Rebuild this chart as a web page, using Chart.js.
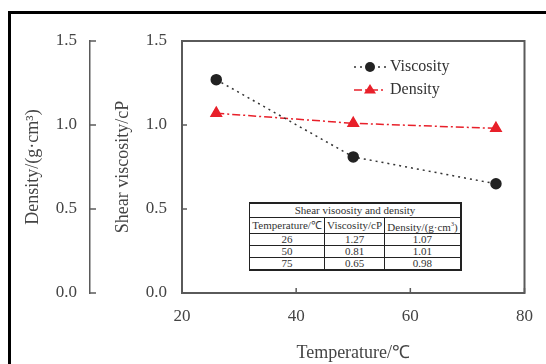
<!DOCTYPE html>
<html>
<head>
<meta charset="utf-8">
<script src="https://cdn.jsdelivr.net/npm/chart.js@4.4.0/dist/chart.umd.min.js"></script>
<style>
  html, body { margin: 0; padding: 0; background: #fff; overflow: hidden; }
  #wrap { position: relative; width: 546px; height: 364px; }
  #edge { position: absolute; left: 8px; top: 11px; width: 600px; height: 400px;
          border-left: 3px solid #000; border-top: 3px solid #000; }
  canvas { position: absolute; left: 0; top: 0; }
  #tbl { position: absolute; left: 249px; top: 202px; width: 213px;
         border-collapse: collapse; font-family: 'Liberation Serif', serif;
         font-size: 11px; color: #333; background: #fff; text-align: center; }
  #tbl td { border: 1px solid #222; padding: 0; line-height: 11px; height: 11px; }
  #tbl tr.cap td { height: 13px; border-top: 2px solid #222; border-right: 2px solid #222; }
  #tbl tr.head td { height: 15px; white-space: nowrap; }
  #tbl td:last-child { border-right: 2px solid #222; }
  #tbl tr:last-child td { border-bottom: 2px solid #222; }
  #tbl sup { font-size: 6px; }
</style>
</head>
<body>
<div id="wrap">
  <canvas id="c" width="546" height="364"></canvas>
  <div id="edge"></div>
  <table id="tbl"></table>
</div>
<script>
// data
const temps = [26, 50, 75];
const viscosity = [1.27, 0.81, 0.65];
const density = [1.07, 1.01, 0.98];
const xTicks = [20, 40, 60, 80];
const yTicks = [0, 0.5, 1.0, 1.5];

const serif = "'Liberation Serif', 'Times New Roman', serif";

// table under the curves, filled from the same arrays
(function () {
  const t = document.getElementById('tbl');
  let html = '<tr class="cap"><td colspan="3">Shear visoosity and density</td></tr>';
  html += '<tr class="head"><td>Temperature/℃</td><td>Viscosity/cP</td><td>Density/(g·cm<sup>3</sup>)</td></tr>';
  temps.forEach((tc, i) => {
    html += `<tr><td>${tc}</td><td>${viscosity[i].toFixed(2)}</td><td>${density[i].toFixed(2)}</td></tr>`;
  });
  t.innerHTML = html;
})();

// plot frame + inward tick marks
const frame = {
  id: 'frame',
  beforeDatasetsDraw(chart) {
    const {ctx, chartArea: a, scales} = chart;
    const line = (x1, y1, x2, y2) => { ctx.beginPath(); ctx.moveTo(x1, y1); ctx.lineTo(x2, y2); ctx.stroke(); };
    ctx.save();
    ctx.strokeStyle = '#5a5a5a';
    ctx.lineWidth = 2;
    ctx.strokeRect(a.left, a.top, a.right - a.left, a.bottom - a.top);
    ctx.lineWidth = 1.5;
    scales.x.ticks.forEach(t => {
      const px = scales.x.getPixelForValue(t.value);
      line(px, a.bottom, px, a.bottom - 5);
    });
    scales.y.ticks.forEach(t => {
      const py = scales.y.getPixelForValue(t.value);
      line(a.left, py, a.left + 5, py);
    });
    const d = scales.y2;
    d.ticks.forEach(t => {
      const py = d.getPixelForValue(t.value);
      line(d.right, py, d.right + 6, py);
    });
    ctx.restore();
  }
};

// legend drawn inside the plot: short styled line, marker, label
const legendIn = {
  id: 'legendIn',
  afterDatasetsDraw(chart) {
    const {ctx, chartArea: a} = chart;
    ctx.save();
    chart.data.datasets.forEach((ds, i) => {
      const x0 = a.left + 172, y = a.top + 26 + i * 23;
      ctx.strokeStyle = ds.borderColor;
      ctx.lineWidth = ds.borderWidth;
      ctx.setLineDash(ds.borderDash);
      ctx.beginPath(); ctx.moveTo(x0, y); ctx.lineTo(x0 + 32, y); ctx.stroke();
      ctx.setLineDash([]);
      ctx.fillStyle = ds.pointBackgroundColor;
      ctx.beginPath();
      const cx = x0 + 16, r = ds.pointRadius;
      if (ds.pointStyle === 'triangle') {
        ctx.moveTo(cx, y - r); ctx.lineTo(cx + r, y + r * 0.6); ctx.lineTo(cx - r, y + r * 0.6);
        ctx.closePath();
      } else {
        ctx.arc(cx, y, r, 0, Math.PI * 2);
      }
      ctx.fill();
      ctx.fillStyle = '#333';
      ctx.font = '16px ' + serif;
      ctx.textBaseline = 'middle';
      ctx.fillText(ds.label, x0 + 36, y);
    });
    ctx.restore();
  }
};

new Chart(document.getElementById('c'), {
  type: 'line',
  data: {
    datasets: [{
      label: 'Viscosity',
      data: temps.map((t, i) => ({x: t, y: viscosity[i]})),
      borderColor: '#333',
      borderWidth: 1.5,
      borderDash: [2, 4],
      pointStyle: 'circle',
      pointRadius: 5,
      pointBackgroundColor: '#222',
      pointBorderColor: '#222',
      yAxisID: 'y'
    }, {
      label: 'Density',
      data: temps.map((t, i) => ({x: t, y: density[i]})),
      borderColor: '#e8202a',
      borderWidth: 1.5,
      borderDash: [8, 3, 2, 3],
      pointStyle: 'triangle',
      pointRadius: 6,
      pointBackgroundColor: '#e8202a',
      pointBorderColor: '#e8202a',
      yAxisID: 'y'
    }]
  },
  options: {
    responsive: false,
    animation: false,
    layout: { padding: { left: 0, top: 41, right: 11, bottom: 0 } },
    plugins: { legend: { display: false }, tooltip: { enabled: false } },
    font: { family: serif },
    scales: {
      x: {
        type: 'linear', min: 20, max: 80,
        afterBuildTicks: s => { s.ticks = xTicks.map(v => ({value: v})); },
        ticks: { font: { family: serif, size: 17 }, color: '#444', padding: 13 },
        grid: { display: false, drawTicks: false },
        border: { display: false },
        title: { display: true, text: 'Temperature/℃', font: { family: serif, size: 18 }, color: '#444', padding: 0 },
        afterFit: s => { s.height = 71; }
      },
      y: {
        position: 'left', weight: 0, min: 0, max: 1.5,
        afterBuildTicks: s => { s.ticks = yTicks.map(v => ({value: v})); },
        ticks: { font: { family: serif, size: 17 }, color: '#444', padding: 15, callback: v => v.toFixed(1) },
        grid: { display: false, drawTicks: false },
        border: { display: false },
        title: { display: true, text: 'Shear viscosity/cP', font: { family: serif, size: 18 }, color: '#444', padding: { top: 22, bottom: 0 } },
        afterFit: s => { s.width = 92; }
      },
      y2: {
        position: 'left', weight: 1, min: 0, max: 1.5,
        afterBuildTicks: s => { s.ticks = yTicks.map(v => ({value: v})); },
        ticks: { font: { family: serif, size: 17 }, color: '#444', padding: 13, callback: v => v.toFixed(1) },
        grid: { display: true, drawOnChartArea: false, drawTicks: false },
        border: { display: true, color: '#5a5a5a', width: 1.5 },
        title: { display: true, text: 'Density/(g·cm³)', font: { family: serif, size: 18 }, color: '#444', padding: { top: 22, bottom: 0 } },
        afterFit: s => { s.width = 90; }
      }
    }
  },
  plugins: [frame, legendIn]
});
</script>
</body>
</html>
